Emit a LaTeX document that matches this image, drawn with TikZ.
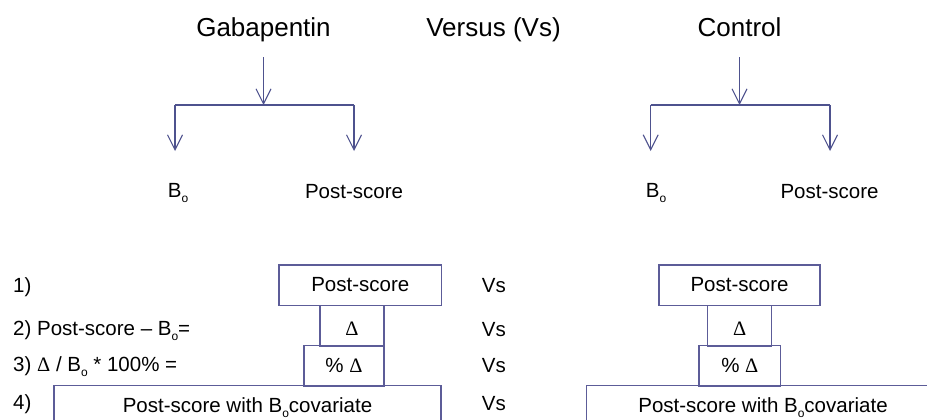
\documentclass[tikz,border=0pt]{standalone}
\usepackage{fontspec}
\setmainfont{Liberation Sans}
\newfontfamily\deltafont{Liberation Serif}
\usetikzlibrary{arrows.meta}
\usetikzlibrary{positioning}
\definecolor{lineblue}{RGB}{78,82,142}
\definecolor{boxblue}{RGB}{92,92,152}
\tikzset{split/.style = {draw=lineblue, line width=1.1pt}}
\tikzset{branch/.style = {split, -{Straight Barb[length=15pt,width=15pt]}}}
\tikzset{title/.style = {font=\fontsize{26}{30}\selectfont, anchor=base, text depth=6pt}}
\tikzset{lbl/.style = {font=\fontsize{20.5}{24}\selectfont, anchor=base}}
\tikzset{steplbl/.style = {lbl, anchor=base west, inner sep=0pt}}
\tikzset{scorebox/.style = {draw=boxblue, line width=1.2pt, inner sep=0pt,
                            minimum height=40.5pt, text height=17pt, text depth=4pt,
                            font=\fontsize{20.5}{24}\selectfont}}
\tikzset{deltabox/.style = {text height=22pt, text depth=2pt}}
\newcommand{\Bsub}{B\raisebox{-5pt}{\fontsize{12}{14}\selectfont o}}
\newcommand{\dlt}{{\deltafont Δ}}

\begin{document}
\begin{tikzpicture}[x=1pt, y=-1pt]
      \clip (0,0) rectangle (927,420);

      \node [title] (gaba) at (263.5,37) {Gabapentin};
      \node [title] (versus) at (493.5,37) {Versus (Vs)};
      \node [title] (control) at (739.5,37) {Control};

      % gabapentin branch
      \coordinate (gsplit) at (263.5,105);
      \coordinate (gleft) at (175,105);
      \coordinate (gright) at (354,105);
      \coordinate (gB) at (175,151);
      \coordinate (gP) at (354,151);
      \draw [branch] ([yshift=-10.7pt]gaba.south) -- (gsplit);
      \draw [split] (gleft) -- (gright);
      \draw [branch] (gleft) -- (gB);
      \draw [branch] (gright) -- (gP);
      \node [lbl] (gbase) at (178,197) {\Bsub};
      \node [lbl] (gpost) at (354,198) {Post-score};

      % control branch
      \coordinate (csplit) at (739.5,105);
      \coordinate (cleft) at (650.7,105);
      \coordinate (cright) at (830,105);
      \coordinate (cB) at (650.7,151);
      \coordinate (cP) at (830,151);
      \draw [branch] ([yshift=-10.7pt]control.south) -- (csplit);
      \draw [split] (cleft) -- (cright);
      \draw [branch] (cleft) -- (cB);
      \draw [branch] (cright) -- (cP);
      \node [lbl] (cbase) at (656,197) {\Bsub};
      \node [lbl] (cpost) at (829.5,198) {Post-score};

      % the four comparisons
      \node [steplbl] (step1) at (13,292) {1)};
      \node [steplbl] (step2) at (13,335.5) {2) Post-score -- \Bsub=};
      \node [steplbl] (step3) at (13,371.5) {3) \dlt{} / \Bsub{} * 100\% =};
      \node [steplbl] (step4) at (13,409.5) {4)};

      \node [scorebox, minimum width=162.7pt] (gpost1) at (360.3,285.3) {Post-score};
      \node [scorebox, deltabox, minimum width=64pt] (gdelta) at (352,325.8) {\dlt};
      \node [scorebox, minimum width=80pt] (gpct) at (344,365.8) {\% \dlt};
      \node [scorebox, minimum width=387pt] (gcov) at (247.5,406) {Post-score with \Bsub covariate};

      \node [steplbl] (vs1) at (481.7,292) {Vs};
      \node [steplbl] (vs2) at (481.7,336) {Vs};
      \node [steplbl] (vs3) at (481.7,372) {Vs};
      \node [steplbl] (vs4) at (481.7,410.5) {Vs};

      \node [scorebox, minimum width=161pt] (cpost1) at (739.5,285.3) {Post-score};
      \node [scorebox, deltabox, minimum width=64pt] (cdelta) at (739.7,325.8) {\dlt};
      \node [scorebox, minimum width=81.7pt] (cpct) at (739.8,365.8) {\% \dlt};
      \node [scorebox, minimum width=352.6pt] (ccov) at (763,406) {Post-score with \Bsub covariate};
\end{tikzpicture}
\end{document}
